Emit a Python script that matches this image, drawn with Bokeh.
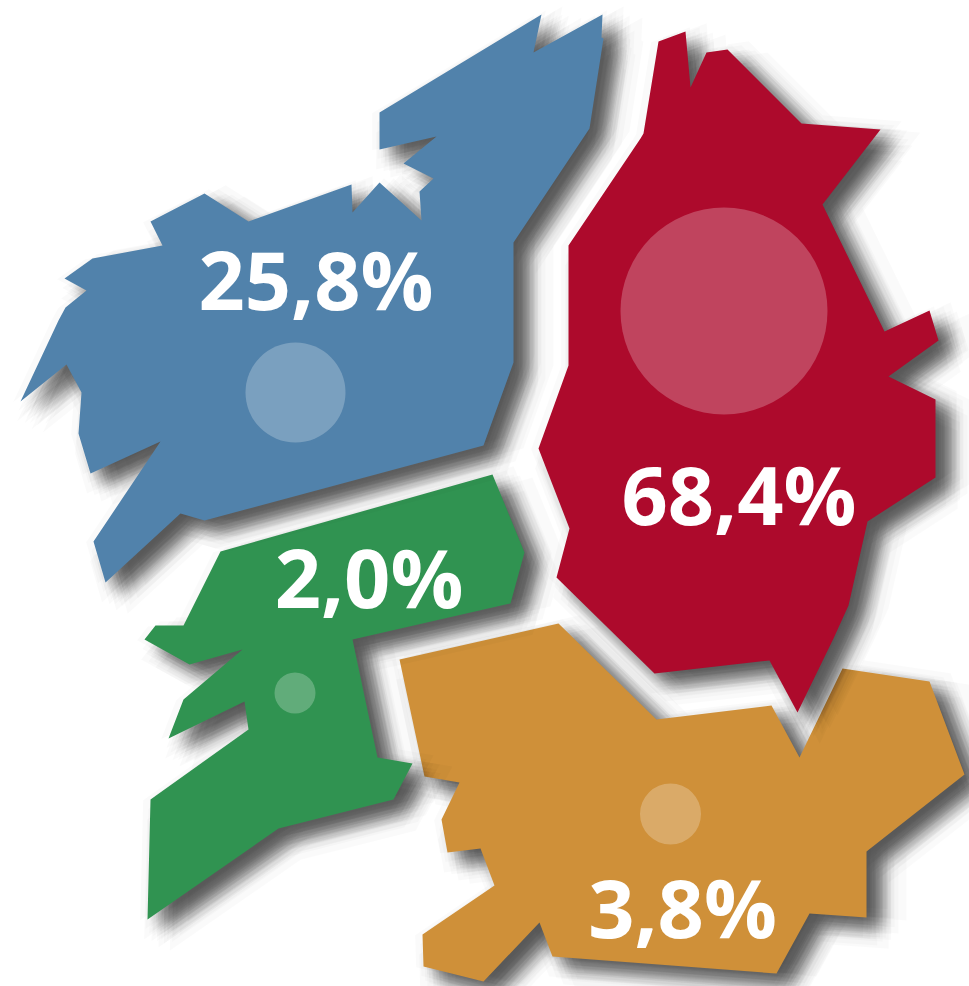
import math
from bokeh.embed import file_html
from bokeh.models import Range1d
from bokeh.plotting import figure
from bokeh.resources import INLINE
from bokeh.core.properties import value

# Map outlines (drawing order: bottom to top)
orange_x = [399,558,656,771,799,842,929,964,866,866,809,776,552,539,483,423,422,494,480,447,441,459,424]
orange_y = [659,623,719,705,757,668,681,774,851,917,913,973,956,922,981,966,934,885,848,852,819,782,776]
green_x = [220,183,155,144,189,242,183,168,244,248,150,147,278,393,412,377,352,510,524,492]
green_y = [551,625,625,639,664,649,699,738,701,729,799,919,828,799,763,757,639,603,552,474]
blue_x = [20,58,65,86,64,92,162,150,204,248,351,352,379,421,419,433,403,436,379,379,541,533,602,601,603,589,513,513,483,204,180,105,93,160,90,78,81,66]
blue_y = [401,320,307,290,278,258,245,221,193,221,184,212,182,220,191,178,163,136,149,112,14,52,14,37,38,128,242,362,445,520,513,582,541,441,473,433,392,364]
red_x = [658,685,690,706,727,801,880,822,884,929,938,888,935,935,867,848,833,797,769,654,556,569,538,568,568,640,643]
red_y = [41,31,87,52,49,123,129,204,331,310,340,376,399,477,521,605,638,712,660,673,577,528,448,365,245,138,133]

region_colors = ["#CF9039", "#309351", "#5182AB", "#AD0A2C"]
outlines_x = [orange_x, green_x, blue_x, red_x]
outlines_y = [orange_y, green_y, blue_y, red_y]

# Bubbles
bubble_x = [670, 294.5, 295, 723.5]
bubble_y = [813.5, 692.5, 392, 310.5]
bubble_r = [30.5, 20.5, 50, 103.5]

# Labels
labels = ["3,8%", "2,0%", "25,8%", "68,4%"]
label_x = [682, 368.5, 315.5, 738.5]
label_y = [938, 608, 310, 525]

p = figure(width=969, height=986, output_backend="svg", toolbar_location=None,
           x_range=Range1d(0, 969), y_range=Range1d(986, 0),
           min_border=0, outline_line_color=None, background_fill_color="white")
p.margin = (0, 0, 0, 0)
p.axis.visible = False
p.grid.visible = False

# Soft drop shadow: stacked translucent copies spread like a Gaussian kernel
N = 48
sigma = 9.0
dx0, dy0 = 14, 11
strength = 0.6
alpha = 1 - (1 - strength) ** (1 / N)
golden = math.pi * (3 - math.sqrt(5))
kernel = []
for i in range(N):
    r = sigma * math.sqrt(-2 * math.log(1 - (i + 0.5) / N))
    kernel.append((dx0 + r * math.cos(i * golden), dy0 + r * math.sin(i * golden)))

for xs, ys, color in zip(outlines_x, outlines_y, region_colors):
    p.patches([[x + dx for x in xs] for dx, dy in kernel],
              [[y + dy for y in ys] for dx, dy in kernel],
              fill_color="black", fill_alpha=alpha, line_color=None)
    p.patch(xs, ys, fill_color=color, line_color=None)

p.circle(bubble_x, bubble_y, radius=bubble_r, fill_color="white", fill_alpha=0.24, line_color=None)
p.text(label_x, label_y, text=labels, text_color="white", text_align="center",
       text_baseline="alphabetic", text_font=value("Open Sans"), text_font_style="bold",
       text_font_size="81px", y_offset=-32)

open("out.html", "w").write(file_html(p, INLINE))
